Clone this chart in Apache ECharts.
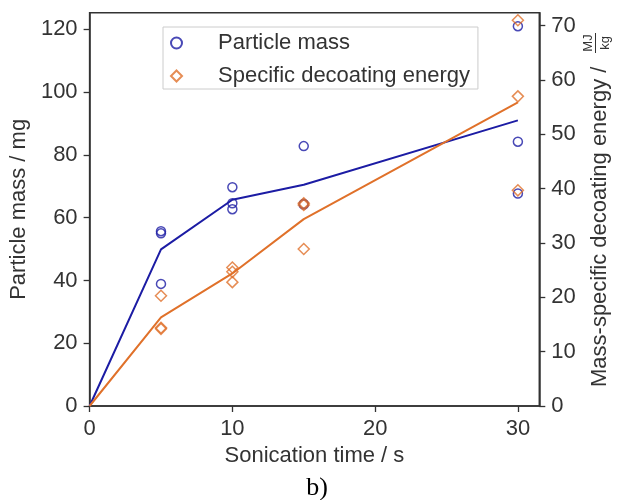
<!DOCTYPE html>
<html><head><meta charset="utf-8">
<script src="https://cdn.jsdelivr.net/npm/echarts@6/dist/echarts.min.js"></script>
<style>html,body{margin:0;padding:0;background:#fff}#c{width:621px;height:500px}</style>
</head><body><div id="c"></div>
<script>
// Data
const times = [5, 10, 15, 30];
const massAt5 = [55.7, 55.0, 38.9];
const massAt10 = [69.7, 64.6, 62.7];
const massAt15 = [82.8, 64.4, 64.2];
const massAt30 = [121.0, 84.2, 67.7];
const energyAt5 = [20.3, 14.4, 14.2];
const energyAt10 = [25.5, 24.7, 22.8];
const energyAt15 = [37.3, 37.0, 28.9];
const energyAt30 = [71.0, 57.0, 39.7];
const meanTimes = [0, 5, 10, 15, 30];
const massMean = [0, 49.9, 65.7, 70.5, 91.0];
const energyMean = [0, 16.3, 24.4, 34.4, 55.9];
const xTicks = [0, 10, 20, 30];
const massTicks = [0, 20, 40, 60, 80, 100, 120];
const energyTicks = [0, 10, 20, 30, 40, 50, 60, 70];

const massGroups = [massAt5, massAt10, massAt15, massAt30];
const energyGroups = [energyAt5, energyAt10, energyAt15, energyAt30];
const massPts = [], energyPts = [];
times.forEach((t, i) => {
  massGroups[i].forEach(v => massPts.push([t, v]));
  energyGroups[i].forEach(v => energyPts.push([t, v]));
});

const BLUE = '#1c1ca4', ORANGE = '#e0712a', TXT = '#333', FONT = 'Liberation Sans';
const axisCommon = {
  axisLine: {show: true, lineStyle: {color: '#333', width: 1.5}},
  axisTick: {show: true, inside: false, length: 6, lineStyle: {color: '#333', width: 1.3}},
  splitLine: {show: false},
  axisLabel: {fontSize: 22, color: TXT, fontFamily: FONT, margin: 12},
  nameTextStyle: {fontSize: 22, color: TXT, fontFamily: FONT}
};
const chart = echarts.init(document.getElementById('c'));
chart.setOption({
  animation: false,
  grid: {left: 88.5, right: 81.7, top: 12.7, bottom: 94, show: true, borderColor: '#333', borderWidth: 1.5, containLabel: false},
  xAxis: Object.assign({}, axisCommon, {
    type: 'value', min: 0, max: 31.5, interval: 10,
    name: 'Sonication time / s', nameLocation: 'middle', nameGap: 38,
    axisTick: Object.assign({}, axisCommon.axisTick, {customValues: xTicks}),
    axisLabel: Object.assign({}, axisCommon.axisLabel, {customValues: xTicks})
  }),
  yAxis: [
    Object.assign({}, axisCommon, {
      type: 'value', min: 0, max: 125.3, interval: 20, position: 'left',
      name: 'Particle mass / mg', nameLocation: 'middle', nameGap: 53, nameRotate: 90,
      axisTick: Object.assign({}, axisCommon.axisTick, {customValues: massTicks}),
      axisLabel: Object.assign({}, axisCommon.axisLabel, {customValues: massTicks})
    }),
    Object.assign({}, axisCommon, {
      type: 'value', min: 0, max: 72.4, interval: 10, position: 'right',
      axisTick: Object.assign({}, axisCommon.axisTick, {customValues: energyTicks}),
      axisLabel: Object.assign({}, axisCommon.axisLabel, {customValues: energyTicks})
    })
  ],
  legend: {
    orient: 'vertical', left: 163, top: 27,
    data: ['Particle mass', 'Specific decoating energy'],
    itemWidth: 11, itemHeight: 11, itemGap: 11,
    padding: [5, 8, 2, 7],
    borderColor: '#cccccc', borderWidth: 1, borderRadius: 0,
    textStyle: {fontSize: 22, color: TXT, fontFamily: FONT, lineHeight: 22, padding: [0, 0, 0, 31]}
  },
  series: [
    {type: 'line', name: 'massMean', data: meanTimes.map((t, i) => [t, massMean[i]]), yAxisIndex: 0,
     showSymbol: false, symbol: 'none', lineStyle: {color: BLUE, width: 2}, itemStyle: {color: BLUE}, z: 2},
    {type: 'line', name: 'energyMean', data: meanTimes.map((t, i) => [t, energyMean[i]]), yAxisIndex: 1,
     showSymbol: false, symbol: 'none', lineStyle: {color: ORANGE, width: 2}, itemStyle: {color: ORANGE}, z: 2},
    {type: 'scatter', name: 'Particle mass', data: massPts, yAxisIndex: 0, symbol: 'circle', symbolSize: 9,
     itemStyle: {color: 'rgba(0,0,0,0)', borderColor: BLUE, borderWidth: 1.5}, z: 3},
    {type: 'scatter', name: 'Specific decoating energy', data: energyPts, yAxisIndex: 1, symbol: 'diamond', symbolSize: 11,
     itemStyle: {color: 'rgba(0,0,0,0)', borderColor: ORANGE, borderWidth: 1.5}, z: 4}
  ],
  graphic: [
    {type: 'text', x: 600, y: 387, rotation: Math.PI / 2,
     style: {text: 'Mass-specific decoating energy /', fontSize: 22, fontFamily: FONT, fill: TXT, align: 'left', verticalAlign: 'middle'}},
    {type: 'text', x: 588, y: 43, rotation: Math.PI / 2,
     style: {text: 'MJ', fontSize: 13, fontFamily: FONT, fill: TXT, align: 'center', verticalAlign: 'middle'}},
    {type: 'text', x: 605, y: 43, rotation: Math.PI / 2,
     style: {text: 'kg', fontSize: 13, fontFamily: FONT, fill: TXT, align: 'center', verticalAlign: 'middle'}},
    {type: 'line', shape: {x1: 595.5, y1: 33, x2: 595.5, y2: 53}, style: {stroke: TXT, lineWidth: 1}},
    {type: 'text', x: 317, y: 488,
     style: {text: 'b)', fontSize: 26, fontFamily: 'Liberation Serif', fill: '#000', align: 'center', verticalAlign: 'middle'}}
  ]
});
</script></body></html>
